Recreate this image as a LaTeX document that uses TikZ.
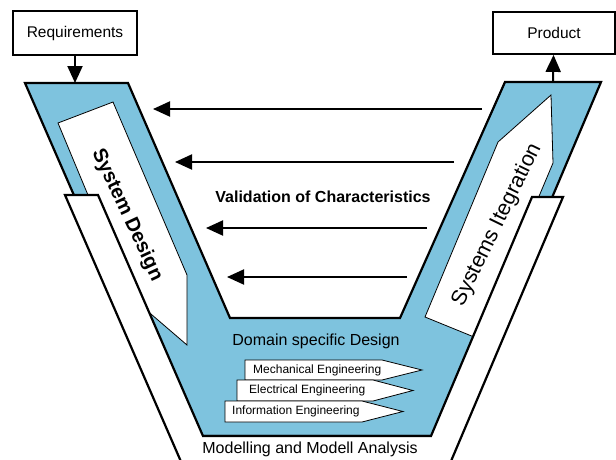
\documentclass[tikz,border=0pt]{standalone}
\usepackage{fontspec}
\setmainfont{Liberation Sans}
\usetikzlibrary{arrows.meta}
\definecolor{vblue}{RGB}{126,195,222}

\begin{document}
\begin{tikzpicture}[x=1pt, y=-1pt, line join=miter,
  box/.style={draw, line width=1.8pt, minimum width=124pt, minimum height=44pt, inner sep=0pt, font=\fontsize{15.5}{18}\selectfont},
  flow/.style={line width=2pt, -{Triangle[length=17pt, width=15pt]}},
  panel/.style={draw, fill=white, line width=0.8pt},
  tagtext/.style={anchor=west, inner sep=0pt, font=\fontsize{12}{14}\selectfont},
  big/.style={inner sep=0pt, font=\fontsize{16}{19}\selectfont}]
\useasboundingbox (0,0) rectangle (616,459);
\clip (0,0) rectangle (616,459);
\node[box] (B1N0) at (75,33) {Requirements};
\node[box, minimum width=122pt, minimum height=42pt] (B1N1) at (554,33) {Product};
\coordinate (VN0) at (75,83);
\coordinate (VN1) at (553,82);
\draw[fill=vblue, line width=2.2pt] (25,83) -- (128,83) -- (230,318) -- (400,318) -- (505,82) -- (601,82) -- (451,436) -- (179,436) -- cycle;
\draw[panel] (58,123) -- (113,102) -- (187,275) -- (187,345) -- (130,296) -- cycle;
\draw[panel] (425,317) -- (498,142) -- (551,95) -- (553,163) -- (479,339) -- cycle;
\draw[fill=white, line width=2.2pt] (65,195) -- (98,195) -- (203,436) -- (431,436) -- (532,197) -- (563,197) -- (443,480) -- (189,480) -- cycle;
\node[big, rotate=-65, font=\fontsize{20}{24}\selectfont\bfseries] (S1N0) at (127,215) {System Design};
\node[big, rotate=64, font=\fontsize{21.5}{24}\selectfont] (S1N1) at (497,225) {Systems Itegration};
\node[big, font=\fontsize{16}{19}\selectfont\bfseries] (S1N2) at (323,197) {Validation of Characteristics};
\node[big] (S1N3) at (316,341) {Domain specific Design};
\node[big] (S1N4) at (310,449) {Modelling and Modell Analysis};
\draw[panel] (245,360) -- (382,360) -- (422,370) -- (382,380) -- (245,380) -- cycle;
\node[tagtext] (T1N0) at (253,370) {Mechanical Engineering};
\draw[panel] (237,380) -- (373,380) -- (413,390.5) -- (373,401) -- (237,401) -- cycle;
\node[tagtext] (T1N1) at (249,390.5) {Electrical Engineering};
\draw[panel] (225,401) -- (362,401) -- (403,411.5) -- (362,422) -- (225,422) -- cycle;
\node[tagtext] (T1N2) at (232,411.5) {Information Engineering};
\coordinate (AN0) at (482,109);
\coordinate (AN1) at (153,109);
\coordinate (AN2) at (454,162);
\coordinate (AN3) at (175,162);
\coordinate (AN4) at (427,228);
\coordinate (AN5) at (206,228);
\coordinate (AN6) at (407,277);
\coordinate (AN7) at (227,277);
\draw[flow] (B1N0) -- (VN0);
\draw[flow] (VN1) -- (B1N1);
\draw[flow] (AN0) -- (AN1);
\draw[flow] (AN2) -- (AN3);
\draw[flow] (AN4) -- (AN5);
\draw[flow] (AN6) -- (AN7);
\end{tikzpicture}
\end{document}
